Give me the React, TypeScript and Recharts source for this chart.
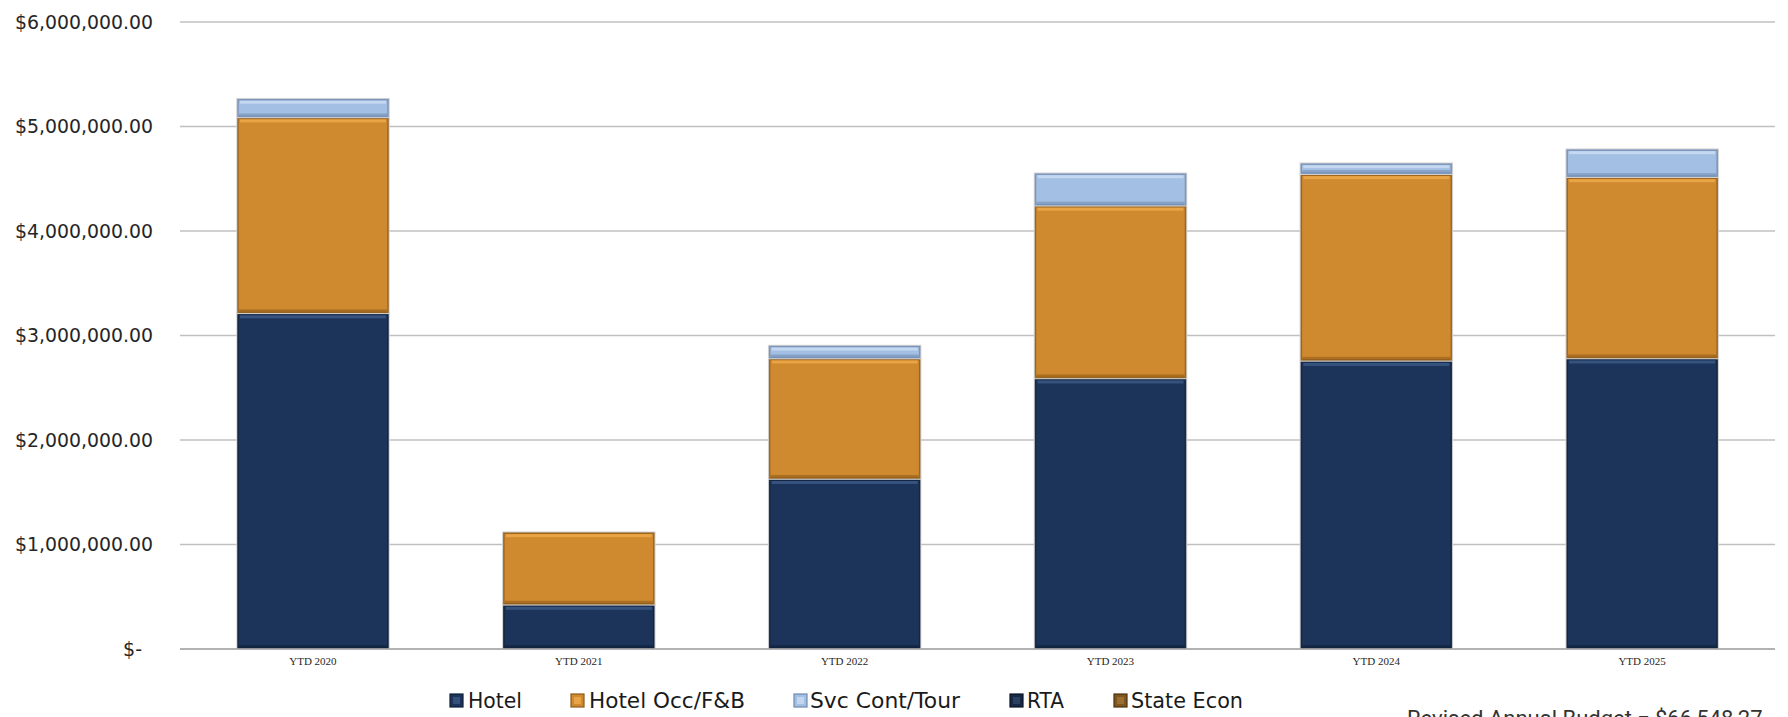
import { Bar, BarChart, CartesianGrid, XAxis, YAxis } from 'recharts';

const years = ['YTD 2020', 'YTD 2021', 'YTD 2022', 'YTD 2023', 'YTD 2024', 'YTD 2025'];

const hotel = [3212000, 423000, 1627000, 2589000, 2757000, 2780000];
const hotelOccFb = [1875000, 695000, 1153000, 1653000, 1787000, 1735000];
const svcContTour = [179000, 0, 124000, 311000, 105000, 268000];
const rta = [0, 0, 0, 0, 0, 0];
const stateEcon = [0, 0, 0, 0, 0, 0];

const seriesNames = ['Hotel', 'Hotel Occ/F&B', 'Svc Cont/Tour', 'RTA', 'State Econ'];

const yTicks = [0, 1000000, 2000000, 3000000, 4000000, 5000000, 6000000];

const budgetNote = 'Revised Annual Budget = $66,548,27';

// fill / highlight / shadow for each series
const tones = [
  { fill: '#1C3459', light: '#3F5E8C', dark: '#0F1F38' },
  { fill: '#CF892E', light: '#F2AE4E', dark: '#8E5A18' },
  { fill: '#A3BFE3', light: '#CFE0F5', dark: '#6F8AB0' },
  { fill: '#162845', light: '#34496B', dark: '#0B1526' },
  { fill: '#7E561E', light: '#A8793A', dark: '#4E330F' }
];

const data = years.map((year, i) => ({
  year,
  hotel: hotel[i],
  hotelOccFb: hotelOccFb[i],
  svcContTour: svcContTour[i],
  rta: rta[i],
  stateEcon: stateEcon[i]
}));

const seriesKeys = ['hotel', 'hotelOccFb', 'svcContTour', 'rta', 'stateEcon'];

// legend layout: icon x, text x, text width
const legendLayout = [
  { x: 450, tx: 468, w: 54 },
  { x: 571, tx: 589, w: 156 },
  { x: 794, tx: 810, w: 150 },
  { x: 1010, tx: 1027, w: 37 },
  { x: 1114, tx: 1131, w: 112 }
];

function BevelBar(props: any) {
  const { x, y, width, height, tone } = props;
  if (!height || height <= 0) return null;
  const t = tones[tone];
  const edge = Math.min(3, height / 3);
  return (
    <g>
      <rect x={x} y={y} width={width} height={height} fill={t.fill} stroke="#D4D4D4" strokeWidth={1.5} />
      <rect x={x + 1} y={y + 1} width={width - 2} height={height - 2} fill="none" stroke={t.dark} strokeWidth={1.5} strokeOpacity={0.8} />
      <rect x={x + 3} y={y + 2} width={width - 6} height={edge} fill={t.light} opacity={0.75} />
      <rect x={x + 2} y={y + height - edge - 1} width={width - 4} height={edge} fill={t.dark} opacity={0.55} />
    </g>
  );
}

function formatMoney(v: number) {
  if (v === 0) return '$-';
  return '$' + v.toLocaleString('en-US', { minimumFractionDigits: 2, maximumFractionDigits: 2 });
}

function MoneyTick(props: any) {
  const { x, y, payload } = props;
  const label = formatMoney(payload.value);
  const zero = payload.value === 0;
  return (
    <text
      x={zero ? x - 11 : x}
      y={y}
      dy="0.36em"
      textAnchor="end"
      fill="#262626"
      fontSize={19}
      fontFamily="'DejaVu Sans', sans-serif"
      textLength={zero ? undefined : 138}
      lengthAdjust="spacingAndGlyphs"
    >
      {label}
    </text>
  );
}

function YearTick(props: any) {
  const { x, y, payload } = props;
  return (
    <text x={x} y={y} dy="0.71em" textAnchor="middle" fill="#262626" fontSize={11} fontFamily="'Liberation Serif', serif">
      {payload.value}
    </text>
  );
}

export default function App() {
  return (
    <div style={{ position: 'fixed', left: 0, top: 0, width: 1788, height: 717, overflow: 'hidden', background: '#fff' }}>
      <BarChart
        width={1788}
        height={717}
        data={data}
        margin={{ top: 22, right: 13, left: 0, bottom: 38 }}
        barSize={152}
      >
        <CartesianGrid vertical={false} stroke="#C0C0C0" strokeWidth={1.5} />
        <XAxis
          dataKey="year"
          height={30}
          axisLine={{ stroke: '#A8A8A8', strokeWidth: 1.5 }}
          tickLine={false}
          tickSize={0}
          tickMargin={8}
          tick={<YearTick />}
        />
        <YAxis
          width={180}
          domain={[0, 6000000]}
          ticks={yTicks}
          axisLine={false}
          tickLine={false}
          tickSize={0}
          tickMargin={27}
          tick={<MoneyTick />}
        />
        {seriesKeys.map((key, i) => (
          <Bar
            key={key}
            dataKey={key}
            name={seriesNames[i]}
            stackId="total"
            fill={tones[i].fill}
            isAnimationActive={false}
            shape={(p: any) => <BevelBar {...p} tone={i} />}
          />
        ))}
      </BarChart>

      <svg width={1788} height={717} style={{ position: 'absolute', left: 0, top: 0, pointerEvents: 'none' }}>
        {seriesNames.map((name, i) => {
          const l = legendLayout[i];
          const t = tones[i];
          return (
            <g key={name}>
              <rect x={l.x} y={694} width={13} height={13} fill={t.fill} stroke={t.dark} strokeWidth={1.2} />
              <rect x={l.x + 3} y={697} width={7} height={7} fill={t.light} opacity={0.7} />
              <text
                x={l.tx}
                y={708}
                fontSize={21}
                fill="#1A1A1A"
                fontFamily="'DejaVu Sans', sans-serif"
                textLength={l.w}
                lengthAdjust="spacingAndGlyphs"
              >
                {name}
              </text>
            </g>
          );
        })}
        <text x={1407} y={726} fontSize={22} fill="#333" fontFamily="Roboto, sans-serif">
          {budgetNote}
        </text>
      </svg>
    </div>
  );
}
